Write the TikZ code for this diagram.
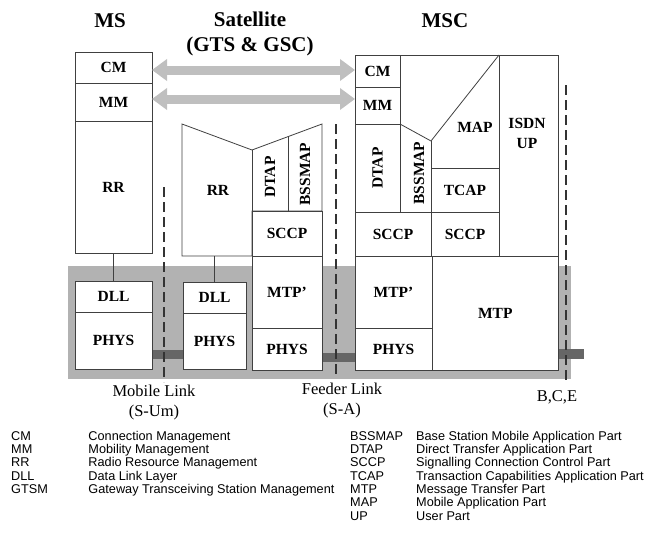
\documentclass[tikz,border=0pt]{standalone}
\usepackage{fontspec}
\setmainfont{Liberation Serif}
\newfontfamily\keyfont{Liberation Sans}
\usepackage{tikz}
\usetikzlibrary{positioning,arrows.meta}

\tikzstyle{layer} = [rectangle, draw=black!75, fill=white, line width=0.8pt, inner sep=0pt, outer sep=0pt, text centered, font=\bfseries\fontsize{15.5}{17}\selectfont]
\tikzstyle{tag} = [inner sep=0pt, font=\bfseries\fontsize{15.5}{20}\selectfont, align=center]
\tikzstyle{stackline} = [draw=black!75, fill=white, line width=0.8pt]
\tikzstyle{title} = [inner sep=0pt, font=\bfseries\fontsize{21}{25}\selectfont, align=center]
\tikzstyle{caption} = [inner sep=0pt, font=\fontsize{16.5}{20}\selectfont, align=center]
\tikzstyle{peer} = [draw=black!25, line width=9pt, {Triangle[length=15pt,width=21pt]}-{Triangle[length=15pt,width=21pt]}]
\tikzstyle{link} = [draw=black!75, line width=0.8pt]
\tikzstyle{cut} = [draw=black!80, line width=1.6pt, dash pattern=on 10pt off 5pt]
\tikzstyle{key} = [inner sep=0pt, anchor=base west, font=\keyfont\fontsize{12.7}{13.35}\selectfont]

\begin{document}
\begin{tikzpicture}[x=1pt, y=-1pt]
\useasboundingbox (0,0) rectangle (646,533);

% grey band and physical links
\fill [black!30] (68,266) rectangle (571,379);
\fill [black!60] (150,350) rectangle (184,359);
\fill [black!60] (320,353) rectangle (357,362);
\fill [black!60] (556,349) rectangle (584,359);

% titles
\node (tms) [title] at (110,21) {MS};
\node (tsat) [title] at (250,34) {Satellite\\(GTS \& GSC)};
\node (tmsc) [title] at (445,21) {MSC};

% MS
\node (mscm) [layer, anchor=north west, minimum width=77pt, minimum height=31pt] at (75,52) {CM};
\node (msmm) [layer, below=0pt of mscm, minimum width=77pt, minimum height=38pt] {MM};
\node (msrr) [layer, below=0pt of msmm, minimum width=77pt, minimum height=132pt] {RR};
\node (msdll) [layer, anchor=north west, minimum width=77pt, minimum height=31pt] at (75,281) {DLL};
\node (msphys) [layer, below=0pt of msdll, minimum width=77pt, minimum height=57pt] {PHYS};
\draw [link] (msrr.south) -- (msdll.north);

% Satellite
\filldraw [stackline] (182,124) -- (252,150) -- (322,124) -- (322,211) -- (252,211) -- (252,256) -- (182,256) -- cycle;
\draw [link] (252,150) -- (252,211);
\draw [link] (288,136.6) -- (288,211);
\node (satrr) [tag] at (218,190) {RR};
\node (satdtap) [tag, rotate=90] at (270,177) {DTAP};
\node (satbssmap) [tag, rotate=90] at (305,174) {BSSMAP};
\node (satsccp) [layer, anchor=north west, minimum width=70pt, minimum height=45pt] at (252,211) {SCCP};
\node (satmtp) [layer, below=0pt of satsccp, minimum width=70pt, minimum height=72pt] {MTP'};
\node (satphys) [layer, below=0pt of satmtp, minimum width=70pt, minimum height=42pt] {PHYS};
\node (satdll) [layer, anchor=north west, minimum width=63pt, minimum height=31pt] at (183,282) {DLL};
\node (satphysb) [layer, below=0pt of satdll, minimum width=63pt, minimum height=56pt] {PHYS};
\coordinate (satrrbase) at (214.5,256);
\draw [link] (satrrbase) -- (satdll.north);

% MSC
\filldraw [stackline] (355,55) rectangle (558.5,256);
\node (msccm) [layer, anchor=north west, minimum width=45pt, minimum height=32pt] at (355,55) {CM};
\node (mscmm) [layer, below=0pt of msccm, minimum width=45pt, minimum height=37pt] {MM};
\node (mscdtap) [layer, below=0pt of mscmm, minimum width=45pt, minimum height=88pt] {};
\node [tag, rotate=90] at (mscdtap) {DTAP};
\node (mscisdn) [layer, anchor=north west, minimum width=59.5pt, minimum height=201pt] at (499,55) {};
\node [tag] at (527,133) {ISDN\\UP};
\draw [link] (400,124) -- (431,141) -- (499,55);
\draw [link] (431,141) -- (431,212);
\node (mscbssmap) [tag, rotate=90] at (419,173) {BSSMAP};
\node (mscmap) [tag] at (475,127) {MAP};
\node (msctcap) [layer, anchor=north west, minimum width=68pt, minimum height=44pt] at (431,168) {TCAP};
\node (mscsccpa) [layer, anchor=north west, minimum width=76pt, minimum height=44pt] at (355,212) {SCCP};
\node (mscsccpb) [layer, anchor=north west, minimum width=68pt, minimum height=44pt] at (431,212) {SCCP};
\node (mscmtpa) [layer, anchor=north west, minimum width=77pt, minimum height=72pt] at (355,256) {MTP'};
\node (mscphys) [layer, below=0pt of mscmtpa, minimum width=77pt, minimum height=42pt] {PHYS};
\node (mscmtp) [layer, anchor=north west, minimum width=126.5pt, minimum height=114pt] at (432,256) {MTP};

% peer arrows
\draw [peer] ([yshift=-2.5pt]mscm.east) -- ([yshift=-2.5pt]mscm.east -| msccm.west);
\draw [peer] ([yshift=3pt]msmm.east) -- ([yshift=3pt]msmm.east -| mscmm.west);

% interfaces
\draw [cut] (164,187) -- (164,382);
\draw [cut] (336,124) -- (336,378);
\draw [cut] (566,85) -- (566,382);
\node (mobile) [caption] at (154,403) {Mobile Link\\(S-Um)};
\node (feeder) [caption] at (342,401) {Feeder Link\\(S-A)};
\node (bce) [caption] at (557,397) {B,C,E};

% legend
\node (keyleft) [key] at (11,440) {\begin{tabular}[t]{@{}p{77.3pt}@{}l@{}}
CM & Connection Management\\
MM & Mobility Management\\
RR & Radio Resource Management\\
DLL & Data Link Layer\\
GTSM & Gateway Transceiving Station Management
\end{tabular}};
\node (keyright) [key] at (350,440) {\begin{tabular}[t]{@{}p{66pt}@{}l@{}}
BSSMAP & Base Station Mobile Application Part\\
DTAP & Direct Transfer Application Part\\
SCCP & Signalling Connection Control Part\\
TCAP & Transaction Capabilities Application Part\\
MTP & Message Transfer Part\\
MAP & Mobile Application Part\\
UP & User Part
\end{tabular}};
\end{tikzpicture}
\end{document}
